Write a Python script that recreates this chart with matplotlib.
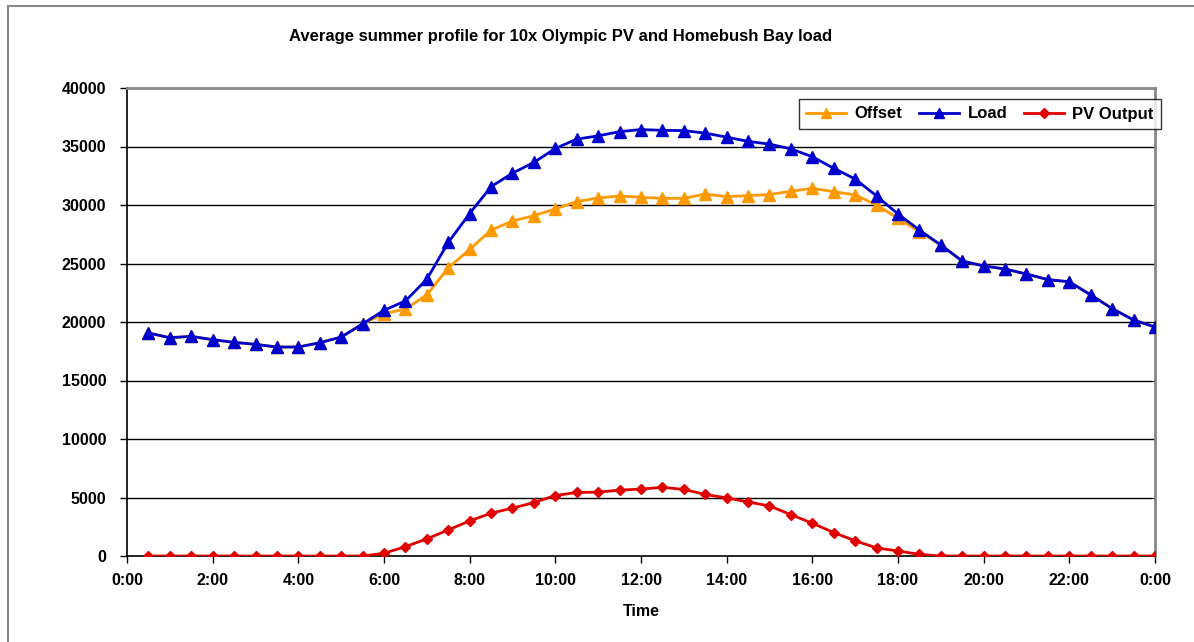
import matplotlib
matplotlib.use("Agg")
import matplotlib.pyplot as plt
from matplotlib.lines import Line2D

plt.rcParams['font.family'] = ['Liberation Sans', 'DejaVu Sans']

# Half-hourly time stamps (hours), 0:30 through 24:00
hours = [h / 2 for h in range(1, 49)]

load = [19060, 18660, 18770, 18490, 18260, 18090, 17860, 17860, 18230, 18710,
        19830, 21000, 21800, 23660, 26800, 29270, 31570, 32720, 33640, 34830,
        35630, 35910, 36270, 36450, 36380, 36360, 36140, 35800, 35440, 35200,
        34800, 34120, 33140, 32220, 30770, 29230, 27860, 26580, 25210, 24790,
        24530, 24100, 23620, 23440, 22310, 21150, 20170, 19570]

offset = [19060, 18660, 18770, 18490, 18260, 18090, 17860, 17860, 18230, 18710,
          19830, 20710, 21110, 22310, 24630, 26200, 27860, 28630, 29090, 29660,
          30290, 30600, 30770, 30660, 30570, 30570, 30940, 30710, 30800, 30890,
          31180, 31420, 31140, 30860, 30000, 28860, 27720, 26580, 25210, 24790,
          24530, 24100, 23620, 23440, 22310, 21150, 20170, 19570]

pv_output = [0, 0, 0, 0, 0, 0, 0, 0, 0, 0,
             0, 230, 800, 1460, 2230, 3000, 3660, 4090, 4570, 5170,
             5430, 5460, 5630, 5720, 5870, 5690, 5260, 4970, 4620, 4280,
             3530, 2800, 2000, 1300, 690, 430, 140, 0, 0, 0,
             0, 0, 0, 0, 0, 0, 0, 0]

tick_hours = list(range(0, 25, 2))
tick_labels = [f"{h % 24}:00" for h in tick_hours]
y_ticks = list(range(0, 40001, 5000))

W, H = 1194, 642
fig = plt.figure(figsize=(W / 100, H / 100), dpi=100)
ax = fig.add_axes([127 / W, 86 / H, 1028 / W, 468 / H])

orange = '#FF9900'
blue = '#0000CC'
red = '#E00000'

ax.plot(hours, offset, color=orange, lw=2, marker='^', ms=8, zorder=3, label='Offset')
ax.plot(hours, load, color=blue, lw=2, marker='^', ms=8, zorder=4, label='Load')
ax.plot(hours, pv_output, color=red, lw=2, marker='D', ms=5.5, zorder=3, label='PV Output')

ax.set_xlim(0, 24)
ax.set_ylim(0, 40000)
ax.set_yticks(y_ticks)
ax.set_yticklabels([str(v) for v in y_ticks], fontsize=11.5, fontweight='bold')
ax.set_xticks(tick_hours)
ax.set_xticklabels(tick_labels, fontsize=11.5, fontweight='bold')
ax.tick_params(axis='both', direction='out', length=5, width=1, color='black', pad=7)
ax.tick_params(axis='y', pad=10)

for v in y_ticks[1:-1]:
    ax.axhline(v, color='black', lw=1, zorder=1)

for side in ['left', 'bottom']:
    ax.spines[side].set_color('black')
    ax.spines[side].set_linewidth(1.2)
for side in ['top', 'right']:
    ax.spines[side].set_color('#888888')
    ax.spines[side].set_linewidth(2)

ax.set_xlabel('Time', fontsize=11.5, fontweight='bold', labelpad=12)
fig.text(561 / W, 1 - 36 / H,
         'Average summer profile for 10x Olympic PV and Homebush Bay load',
         ha='center', va='center', fontsize=12, fontweight='bold')

leg = ax.legend(loc='upper right', bbox_to_anchor=(1161 / W, 1 - 99 / H),
                bbox_transform=fig.transFigure, borderaxespad=0, ncol=3,
                frameon=True, fancybox=False, edgecolor='black',
                prop={'weight': 'bold', 'size': 12}, handlelength=2.4,
                columnspacing=1.0, handletextpad=0.5, borderpad=0.45,
                markerscale=0.9)
leg.get_frame().set_linewidth(1)
leg.set_zorder(10)

# Outer chart-area frame
fig.add_artist(Line2D([8 / W, 8 / W], [0, 1 - 6 / H],
                      transform=fig.transFigure, color='#888888', lw=1.5))
fig.add_artist(Line2D([8 / W, 1], [1 - 6 / H, 1 - 6 / H],
                      transform=fig.transFigure, color='#888888', lw=1.5))

fig.savefig('out.png', dpi=100, facecolor='white')
